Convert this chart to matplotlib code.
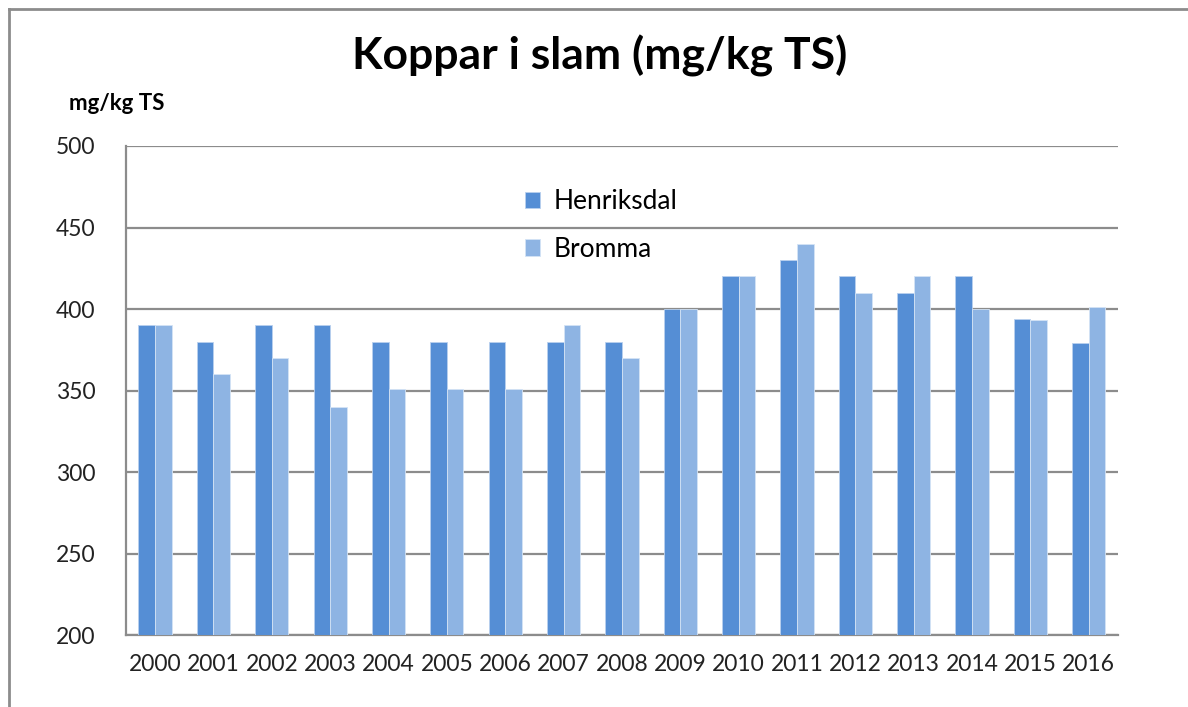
import matplotlib
matplotlib.use("Agg")
import matplotlib.pyplot as plt
import numpy as np
from matplotlib.lines import Line2D

plt.rcParams['font.family'] = ['Lato', 'DejaVu Sans']

# Data
years = [str(y) for y in range(2000, 2017)]
henriksdal = [390, 380, 390, 390, 380, 380, 380, 380, 380, 400, 420, 430, 420, 410, 420, 394, 379]
bromma = [390, 360, 370, 340, 351, 351, 351, 390, 370, 400, 420, 440, 410, 420, 400, 393, 401]

c_henr = '#558ED5'
c_brom = '#8EB4E3'
grid_c = '#8c8c8c'

fig = plt.figure(figsize=(11.88, 7.07), dpi=100)
ax = fig.add_axes([0.106, 0.1018, 0.835, 0.6917])

x = np.arange(len(years))
w = 0.285
ax.bar(x - w / 2, henriksdal, w, color=c_henr, edgecolor='#b9d0ee', linewidth=0.6,
       label='Henriksdal', zorder=3)
ax.bar(x + w / 2, bromma, w, color=c_brom, edgecolor='#d4e3f5', linewidth=0.6,
       label='Bromma', zorder=3)

ax.set_ylim(200, 500)
ax.set_xlim(-0.5, len(years) - 0.5)
ax.set_yticks(range(200, 501, 50))
ax.set_xticks(x)
ax.set_xticklabels(years)
ax.tick_params(axis='both', length=0, labelsize=16.5, colors='#222222')
ax.tick_params(axis='x', pad=14)
ax.tick_params(axis='y', pad=22)
ax.yaxis.grid(True, color=grid_c, linewidth=1.6, zorder=0)
ax.set_axisbelow(True)
for s in ['top', 'right']:
    ax.spines[s].set_visible(False)
for s in ['left', 'bottom']:
    ax.spines[s].set_color(grid_c)
    ax.spines[s].set_linewidth(1.6)

leg = ax.legend(loc='upper left', bbox_to_anchor=(0.378, 0.96), frameon=False,
                fontsize=19, handlelength=0.6, handleheight=0.6, handletextpad=0.5,
                labelspacing=0.85)

fig.text(0.505, 0.921, 'Koppar i slam (mg/kg TS)', ha='center', va='center',
         fontsize=32, fontweight='bold', color='black')
fig.text(0.058, 0.854, 'mg/kg TS', ha='left', va='center', fontsize=16,
         fontweight='bold', color='black')

# outer chart frame (top and left edges visible)
fig.add_artist(Line2D([9 / 1188, 1.0], [1 - 9 / 707, 1 - 9 / 707],
                      transform=fig.transFigure, color='#8c8c8c', linewidth=2))
fig.add_artist(Line2D([9 / 1188, 9 / 1188], [0, 1 - 9 / 707],
                      transform=fig.transFigure, color='#8c8c8c', linewidth=2))

fig.savefig('out.png', dpi=100, facecolor='white')
